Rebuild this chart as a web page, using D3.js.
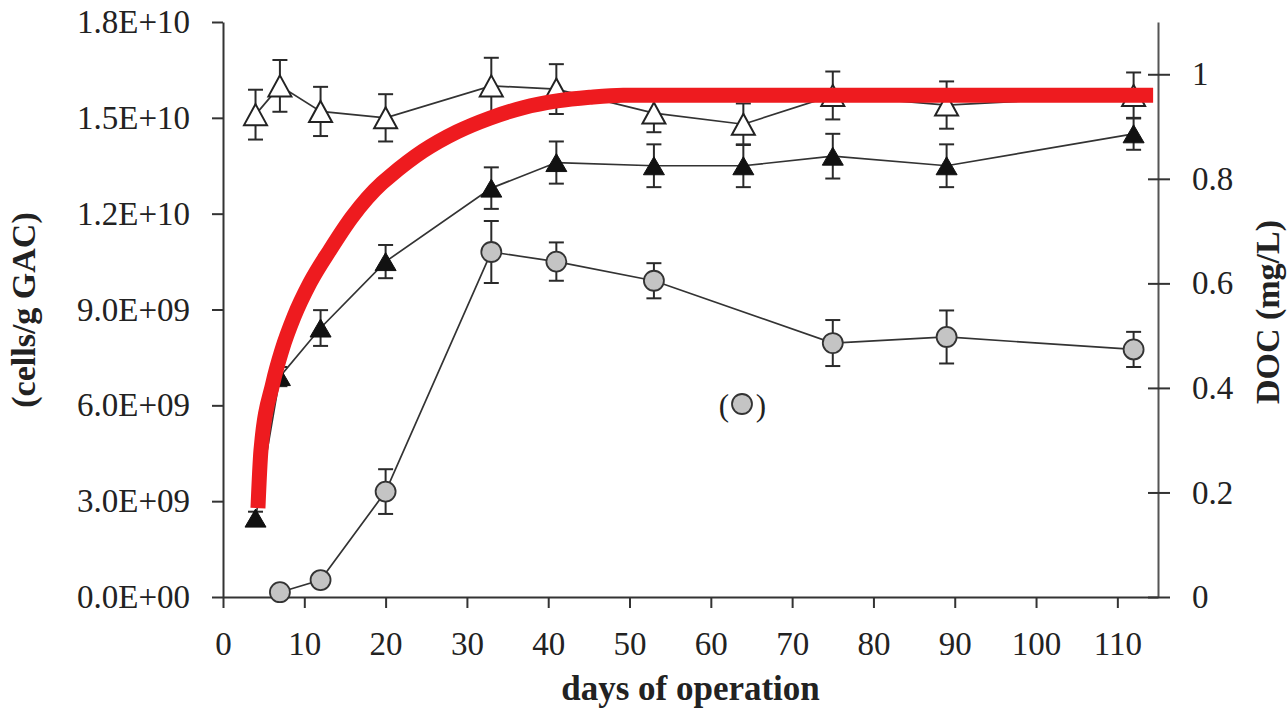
<!DOCTYPE html>
<html lang="en">
<head>
    <meta charset="UTF-8">
    <title>Cells and DOC vs days of operation</title>
    <script src="https://d3js.org/d3.v7.min.js"></script>
    <style>
        body { margin: 0; background: #fff; }
        text { font-family: "Liberation Serif", "Times New Roman", serif; fill: #222; }
    </style>
</head>
<body>
    <script>
        // sampling days (open and filled triangles)
        var days = [4, 7, 12, 20, 33, 41, 53, 64, 75, 89, 112];
        // open triangles
        var openTri = [1.51e10, 1.60e10, 1.52e10, 1.50e10, 1.60e10, 1.59e10, 1.515e10, 1.48e10, 1.57e10, 1.54e10, 1.57e10];
        var openErr = [0.78e9, 0.81e9, 0.77e9, 0.74e9, 0.88e9, 0.78e9, 0.6e9, 0.65e9, 0.75e9, 0.74e9, 0.72e9];
        // filled triangles
        var fillTri = [2.47e9, 6.9e9, 8.42e9, 1.05e10, 1.28e10, 1.36e10, 1.35e10, 1.35e10, 1.38e10, 1.35e10, 1.45e10];
        var fillErr = [0.2e9, 0.3e9, 0.56e9, 0.52e9, 0.65e9, 0.66e9, 0.67e9, 0.67e9, 0.7e9, 0.67e9, 0.5e9];
        // grey circles
        var circDays = [7, 12, 20, 33, 41, 53, 75, 89, 112];
        var circVals = [1.5e8, 5.3e8, 3.3e9, 1.08e10, 1.05e10, 9.9e9, 7.95e9, 8.14e9, 7.75e9];
        var circErr = [0, 0, 0.7e9, 0.97e9, 0.6e9, 0.55e9, 0.72e9, 0.83e9, 0.55e9];
        // DOC curve (right axis)
        var docDays = [4.3, 4.67, 6.15, 7.26, 8.73, 10.7, 13.16, 15.87, 19.56, 20.54, 24.6, 28.8, 32.8, 36.9, 41.1, 45.1, 49.2, 114.4];
        var docVals = [0.170, 0.281, 0.410, 0.473, 0.536, 0.601, 0.664, 0.727, 0.792, 0.805, 0.853, 0.890, 0.916, 0.936, 0.949, 0.956, 0.960, 0.960];

        // ticks
        var xTicks = [0, 10, 20, 30, 40, 50, 60, 70, 80, 90, 100, 110];
        var leftTicks = [0, 3e9, 6e9, 9e9, 1.2e10, 1.5e10, 1.8e10];
        var leftTickLabels = ["0.0E+00", "3.0E+09", "6.0E+09", "9.0E+09", "1.2E+10", "1.5E+10", "1.8E+10"];
        var rightTicks = [0, 0.2, 0.4, 0.6, 0.8, 1];
        var rightTickLabels = ["0", "0.2", "0.4", "0.6", "0.8", "1"];

        var w = 1287, h = 710;
        var plotL = 223, plotR = 1158, plotT = 22, plotB = 597;

        var x = d3.scaleLinear().domain([0, 115]).range([plotL, plotR]);
        var yL = d3.scaleLinear().domain([0, 1.8e10]).range([plotB, plotT]);
        var yR = d3.scaleLinear().domain([0, 1.1]).range([plotB, plotT]);

        var svg = d3.select("body").append("svg")
                    .attr("width", w)
                    .attr("height", h);

        // axes
        var xAxis = svg.append("g")
                    .attr("transform", "translate(0," + plotB + ")")
                    .call(d3.axisBottom(x).tickValues(xTicks).tickSizeInner(11).tickSizeOuter(0).tickPadding(24));

        var lAxis = svg.append("g")
                    .attr("transform", "translate(" + plotL + ",0)")
                    .call(d3.axisLeft(yL).tickValues(leftTicks).tickSizeInner(11).tickSizeOuter(0).tickPadding(22)
                            .tickFormat((d, i) => leftTickLabels[i]));

        var rAxis = svg.append("g")
                    .attr("transform", "translate(" + plotR + ",0)")
                    .call(d3.axisRight(yR).tickValues(rightTicks).tickSizeInner(12).tickSizeOuter(0).tickPadding(22)
                            .tickFormat((d, i) => rightTickLabels[i]));
        rAxis.selectAll(".tick line").attr("x1", -10);

        [xAxis, lAxis, rAxis].forEach(function(g) {
            g.selectAll("path.domain").attr("stroke", "#333").attr("stroke-width", 2);
            g.selectAll(".tick line").attr("stroke", "#333").attr("stroke-width", 2);
            g.selectAll(".tick text").style("font-size", "33px").attr("fill", "#222");
        });
        rAxis.select("path.domain").attr("stroke", "#555");

        // axis titles
        svg.append("text")
            .attr("transform", "translate(35,310) rotate(-90)")
            .attr("text-anchor", "middle")
            .style("font-size", "34px").style("font-weight", "bold")
            .text("(cells/g GAC)");
        svg.append("text")
            .attr("transform", "translate(1279,312) rotate(-90)")
            .attr("text-anchor", "middle")
            .style("font-size", "34px").style("font-weight", "bold")
            .text("DOC (mg/L)");
        svg.append("text")
            .attr("x", (plotL + plotR) / 2)
            .attr("y", 700)
            .attr("text-anchor", "middle")
            .style("font-size", "35px").style("font-weight", "bold")
            .text("days of operation");

        function triPath(tw, th) {
            return "M0," + (-th / 2) + "L" + (tw / 2) + "," + (th / 2) + "L" + (-tw / 2) + "," + (th / 2) + "Z";
        }

        function drawSeries(xs, vals, errs, kind) {
            var pts = xs.map((d, i) => ({ d: d, v: vals[i], e: errs[i] }));
            var line = d3.line().x(p => x(p.d)).y(p => yL(p.v));
            svg.append("path")
                .datum(pts)
                .attr("d", line)
                .attr("fill", "none")
                .attr("stroke", "#333")
                .attr("stroke-width", 1.7);

            var eb = svg.append("g").attr("stroke", "#2a2a2a").attr("stroke-width", 2);
            pts.filter(p => p.e > 0).forEach(function(p) {
                var cx = x(p.d), y1 = yL(p.v + p.e), y2 = yL(p.v - p.e);
                eb.append("line").attr("x1", cx).attr("x2", cx).attr("y1", y1).attr("y2", y2);
                eb.append("line").attr("x1", cx - 7.5).attr("x2", cx + 7.5).attr("y1", y1).attr("y2", y1);
                eb.append("line").attr("x1", cx - 7.5).attr("x2", cx + 7.5).attr("y1", y2).attr("y2", y2);
            });

            var m = svg.append("g").selectAll("path")
                .data(pts)
                .join("path")
                .attr("transform", p => "translate(" + x(p.d) + "," + yL(p.v) + ")");
            if (kind === "open") {
                m.attr("d", triPath(23, 21)).attr("fill", "#fff").attr("stroke", "#222").attr("stroke-width", 2);
            } else if (kind === "filled") {
                m.attr("d", triPath(21, 18)).attr("fill", "#111").attr("stroke", "#111").attr("stroke-width", 1);
            } else {
                m.attr("d", d3.arc()({ innerRadius: 0, outerRadius: 10, startAngle: 0, endAngle: 2 * Math.PI }))
                 .attr("fill", "#c4c4c4").attr("stroke", "#333").attr("stroke-width", 1.8);
            }
        }

        drawSeries(days, openTri, openErr, "open");
        drawSeries(days, fillTri, fillErr, "filled");
        drawSeries(circDays, circVals, circErr, "circle");

        // legend marker "( o )"
        svg.append("text").attr("x", 724).attr("y", 416).attr("text-anchor", "middle")
            .style("font-size", "31px").text("(");
        svg.append("text").attr("x", 761).attr("y", 416).attr("text-anchor", "middle")
            .style("font-size", "31px").text(")");
        svg.append("circle").attr("cx", 742).attr("cy", 404).attr("r", 10)
            .attr("fill", "#c4c4c4").attr("stroke", "#333").attr("stroke-width", 1.8);

        // DOC curve
        var docLine = d3.line()
                        .x((d, i) => x(docDays[i]))
                        .y(d => yR(d))
                        .curve(d3.curveMonotoneX);
        svg.append("path")
            .datum(docVals)
            .attr("d", docLine)
            .attr("fill", "none")
            .attr("stroke", "#ee1b1f")
            .attr("stroke-width", 15)
            .attr("stroke-linecap", "butt");
    </script>
</body>
</html>
